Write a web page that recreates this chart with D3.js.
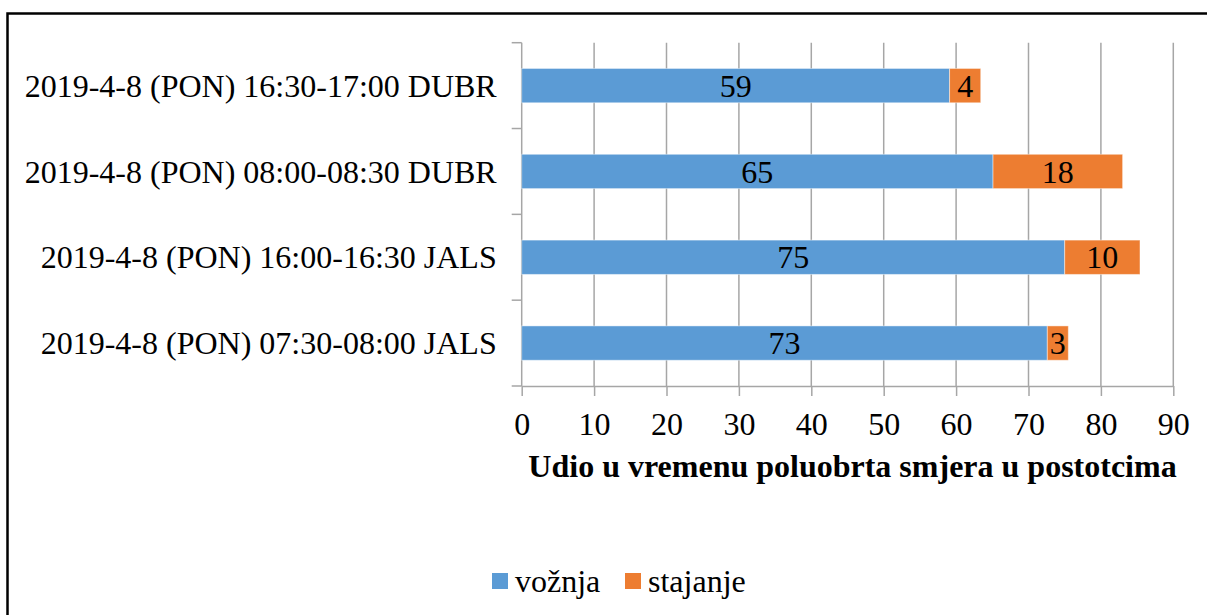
<!DOCTYPE html>
<html lang="hr">
<head>
    <meta charset="UTF-8">
    <title>Udio u vremenu poluobrta</title>
    <script src="https://d3js.org/d3.v7.min.js"></script>
    <style>
        body { margin: 0; background: #fff; }
        svg { display: block; font-family: "Liberation Serif", "Times New Roman", serif; }
        .grid line { stroke: #a6a6a6; stroke-width: 1.5; }
        .axis path, .axis line { stroke: #a6a6a6; stroke-width: 1.5; }
        .axis text { fill: #000; font-size: 32px; font-family: "Liberation Serif", "Times New Roman", serif; }
    </style>
</head>
<body>
<script>
    const width = 1207;
    const height = 615;

    // categories, top to bottom
    const categories = [
        "2019-4-8 (PON) 16:30-17:00 DUBR",
        "2019-4-8 (PON) 08:00-08:30 DUBR",
        "2019-4-8 (PON) 16:00-16:30 JALS",
        "2019-4-8 (PON) 07:30-08:00 JALS"
    ];
    const voznja   = [59.1, 65.1, 75.0, 72.6];
    const stajanje = [4.3, 17.9, 10.4, 2.9];
    const seriesNames = ["vožnja", "stajanje"];
    const colors = ["#5b9bd5", "#ed7d31"];
    const xTicks = [0, 10, 20, 30, 40, 50, 60, 70, 80, 90];
    const xTitle = "Udio u vremenu poluobrta smjera u postotcima";

    const svg = d3.select("body").append("svg")
        .attr("width", width).attr("height", height);

    // outer frame (only top and left edges fall inside the picture)
    svg.append("rect")
        .attr("x", 7.5).attr("y", 13.5)
        .attr("width", 1215).attr("height", 620)
        .attr("fill", "none").attr("stroke", "#000").attr("stroke-width", 2.5);

    const x = d3.scaleLinear().domain([0, 90]).range([521.7, 1173.3]);
    const y = d3.scaleBand().domain(categories).range([42.7, 386])
        .paddingInner(0.6).paddingOuter(0.3);

    // vertical gridlines
    svg.append("g").attr("class", "grid")
        .selectAll("line").data(xTicks.slice(1)).enter().append("line")
        .attr("x1", d => x(d)).attr("x2", d => x(d))
        .attr("y1", 42.7).attr("y2", 386);

    // bottom axis
    svg.append("g").attr("class", "axis")
        .attr("transform", "translate(0,386)")
        .call(d3.axisBottom(x).tickValues(xTicks).tickSize(10).tickSizeOuter(0).tickPadding(16))
        .call(g => g.attr("font-family", null).attr("font-size", null))
        .call(g => g.selectAll("text").attr("dy", "0.71em"));

    // left axis: ticks at category boundaries
    const leftAxis = svg.append("g").attr("class", "axis");
    leftAxis.append("line")
        .attr("x1", x(0)).attr("x2", x(0)).attr("y1", 42.7).attr("y2", 386);
    const step = y.step();
    const bounds = d3.range(categories.length + 1).map(i => 42.7 + i * step);
    leftAxis.selectAll("line.tick").data(bounds).enter().append("line")
        .attr("class", "tick")
        .attr("x1", x(0) - 10).attr("x2", x(0))
        .attr("y1", d => d).attr("y2", d => d);
    leftAxis.selectAll("text").data(categories).enter().append("text")
        .attr("x", x(0) - 25)
        .attr("y", d => y(d) + y.bandwidth() / 2)
        .attr("dy", "0.35em")
        .attr("text-anchor", "end")
        .text(d => d);

    // stacked bars
    const rows = categories.map((c, i) => ({cat: c, vals: [voznja[i], stajanje[i]]}));
    rows.forEach(r => {
        let acc = 0;
        r.vals.forEach((v, k) => {
            const x0 = acc, x1 = acc + v;
            acc = x1;
            svg.append("rect")
                .attr("x", x(x0)).attr("y", y(r.cat))
                .attr("width", x(x1) - x(x0)).attr("height", y.bandwidth())
                .attr("fill", colors[k])
                .attr("stroke", "rgba(255,255,255,0.45)").attr("stroke-width", 1);
            svg.append("text")
                .attr("x", (x(x0) + x(x1)) / 2)
                .attr("y", y(r.cat) + y.bandwidth() / 2)
                .attr("dy", "0.35em")
                .attr("text-anchor", "middle")
                .style("font-size", "32px")
                .text(Math.round(v));
        });
    });

    // axis title
    svg.append("text")
        .attr("x", (x(0) + x(90)) / 2 + 5).attr("y", 477)
        .attr("text-anchor", "middle")
        .style("font-size", "32px").style("font-weight", "bold")
        .text(xTitle);

    // legend
    const legendX = [492, 625];
    const legend = svg.append("g").selectAll("g").data(seriesNames).enter().append("g")
        .attr("transform", (d, i) => `translate(${legendX[i]},573)`);
    legend.append("rect")
        .attr("width", 16).attr("height", 16)
        .attr("fill", (d, i) => colors[i]);
    legend.append("text")
        .attr("x", 23).attr("y", 8).attr("dy", "0.35em")
        .style("font-size", "32px")
        .text(d => d);
</script>
</body>
</html>
